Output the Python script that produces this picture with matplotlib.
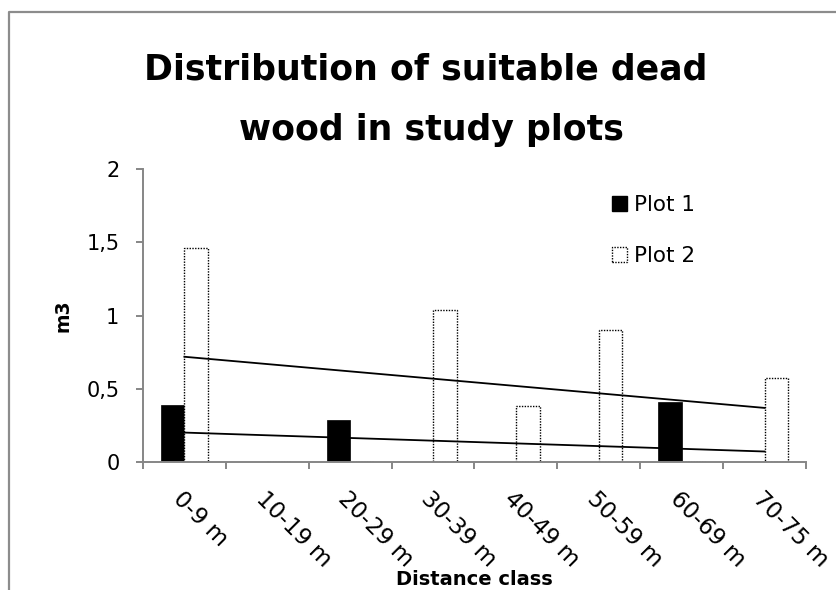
import numpy as np
import matplotlib
matplotlib.use("Agg")
from matplotlib import pyplot as plt
from matplotlib.patches import Patch
from matplotlib.lines import Line2D
from matplotlib.transforms import ScaledTranslation

categories = ["0-9 m", "10-19 m", "20-29 m", "30-39 m", "40-49 m", "50-59 m", "60-69 m", "70-75 m"]
plot1 = [0.39, 0, 0.29, 0, 0, 0, 0.41, 0]
plot2 = [1.46, 0, 0, 1.04, 0.38, 0.9, 0, 0.57]
yticks = [0, 0.5, 1, 1.5, 2]
ytick_labels = ["0", "0,5", "1", "1,5", "2"]

W, H = 837, 590
fig = plt.figure(figsize=(W / 100, H / 100), dpi=100)
ax = fig.add_axes([143 / W, 1 - 462 / H, (806 - 143) / W, (462 - 169) / H])

x = np.arange(len(categories))
bw = 1 / 3.5
ax.bar(x - bw / 2, plot1, bw, color="black", edgecolor="black", linewidth=0.5, zorder=2)
ax.bar(x + bw / 2, plot2, bw, color="white", edgecolor="black", linewidth=1,
       linestyle=(0, (1, 1)), zorder=2)

# linear trend lines, same as excel
for vals in (plot1, plot2):
    k, b = np.polyfit(x, vals, 1)
    ax.plot([x[0], x[-1]], [k * x[0] + b, k * x[-1] + b], color="black", lw=1.3, zorder=3)

ax.set_xlim(-0.5, len(categories) - 0.5)
ax.set_ylim(0, 2)
ax.set_yticks(yticks)
ax.set_yticklabels(ytick_labels, fontsize=15)
ax.set_xticks(np.arange(len(categories) + 1) - 0.5)
ax.set_xticklabels([])
ax.set_xticks(x, minor=True)
ax.set_xticklabels(categories, minor=True, fontsize=16.5, rotation=-45,
                   ha="left", va="top", rotation_mode="anchor")
shift = ScaledTranslation(6 / 100, 0, fig.dpi_scale_trans)
for lbl in ax.get_xticklabels(minor=True):
    lbl.set_transform(lbl.get_transform() + shift)

gray = "#868686"
for s in ("top", "right"):
    ax.spines[s].set_visible(False)
for s in ("left", "bottom"):
    ax.spines[s].set_color(gray)
    ax.spines[s].set_linewidth(1.4)
ax.tick_params(axis="both", which="major", direction="out", length=5, width=1.4, color=gray)
ax.tick_params(axis="y", pad=12)
ax.tick_params(axis="x", which="minor", length=0, pad=18)

fig.text(426 / W, 1 - 80 / H, "Distribution of suitable dead", fontsize=25,
         fontweight="bold", ha="center", va="baseline")
fig.text(431 / W, 1 - 140 / H, "wood in study plots", fontsize=25,
         fontweight="bold", ha="center", va="baseline")
fig.text(63 / W, 1 - 316 / H, "m3", fontsize=13.5, fontweight="bold",
         rotation=90, ha="center", va="center")
fig.text(474 / W, 1 - 585 / H, "Distance class", fontsize=14, fontweight="bold",
         ha="center", va="baseline")

handles = [Patch(facecolor="black", edgecolor="black"),
           Patch(facecolor="white", edgecolor="black", linestyle=(0, (1, 1)), linewidth=1)]
fig.legend(handles, ["Plot 1", "Plot 2"], loc="upper left",
           bbox_to_anchor=(612 / W, 1 - 195 / H), frameon=False, fontsize=15.5,
           handlelength=0.7, handleheight=0.7, handletextpad=0.3,
           labelspacing=1.45, borderpad=0, borderaxespad=0)

fig.add_artist(Line2D([9 / W, 9 / W, 1], [0, 1 - 11.5 / H, 1 - 11.5 / H],
                      color="#8c8c8c", lw=1.6))

fig.savefig("out.png", dpi=100)
